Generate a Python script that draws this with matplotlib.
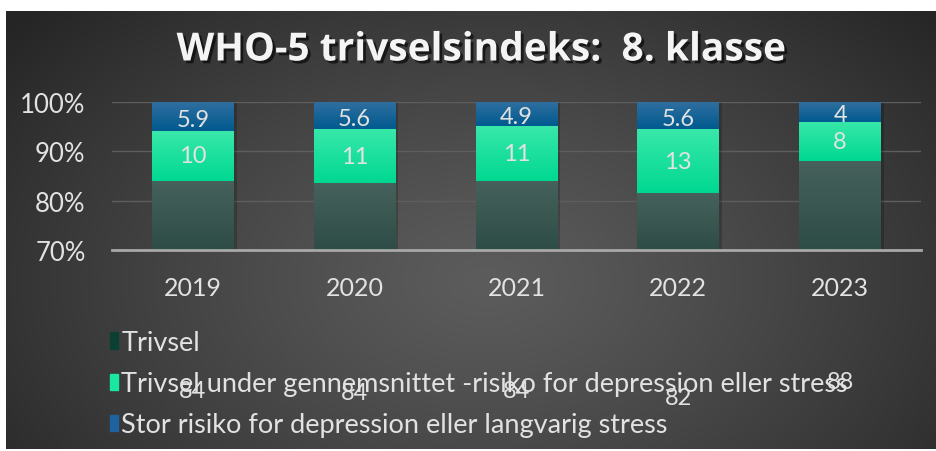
import matplotlib
matplotlib.use('Agg')
import matplotlib.pyplot as plt
import matplotlib.patheffects as pe
from matplotlib.patches import Patch
from matplotlib.colors import to_rgb
import numpy as np

# data
years = ['2019', '2020', '2021', '2022', '2023']
trivsel = [84, 84, 84, 82, 88]
under_snit = [10, 11, 11, 13, 8]
stor_risiko = [5.9, 5.6, 4.9, 5.6, 4]
labels = ['Trivsel',
          'Trivsel under gennemsnittet -risiko for depression eller stress',
          'Stor risiko for depression eller langvarig stress']

plt.rcParams['font.family'] = ['Lato', 'DejaVu Sans']
txt_col = '#e2e2e2'

fig = plt.figure(figsize=(9.37, 4.52), dpi=100)
fig.patch.set_facecolor('white')

# baggrund med radial gradient
bg = fig.add_axes([6/937, 2/452, 931/937, 438/452])
bg.set_axis_off()
yy, xx = np.mgrid[0:438, 0:931]
r = np.sqrt(((xx - 480) / 620.0) ** 2 + ((yy - 270) / 400.0) ** 2)
t = np.clip(r / 1.0, 0, 1) ** 1.2
c_in = np.array(to_rgb('#5c5c5c'))
c_out = np.array(to_rgb('#252525'))
img = c_in[None, None, :] * (1 - t[..., None]) + c_out[None, None, :] * t[..., None]
bg.imshow(img, aspect='auto', interpolation='bilinear')

ax = fig.add_axes([112/937, (452-251)/452, (921-112)/937, 148/452])
ax.set_facecolor('none')

# 100% stablet
tot = np.array(trivsel) + np.array(under_snit) + np.array(stor_risiko)
p1 = np.array(trivsel) / tot * 100
p2 = np.array(under_snit) / tot * 100
p3 = np.array(stor_risiko) / tot * 100
x = np.arange(len(years))
w = 0.506

def grad_fill(bars, top_col, bot_col, ymin=70):
    for b in bars:
        x0, y0 = b.get_x(), max(b.get_y(), ymin)
        x1, y1 = x0 + b.get_width(), b.get_y() + b.get_height()
        g = np.linspace(0, 1, 64)[:, None]
        ct = np.array(to_rgb(top_col)); cb = np.array(to_rgb(bot_col))
        im = ct[None, None, :] * (1 - g[..., None]) + cb[None, None, :] * g[..., None]
        im = np.repeat(im, 2, axis=1)
        ax.imshow(im, extent=[x0, x1, y0, y1], aspect='auto', zorder=3,
                  clip_path=b, interpolation='bilinear')

shadow = [pe.SimplePatchShadow(offset=(2, -1), shadow_rgbFace='black', alpha=0.2), pe.Normal()]
b1 = ax.bar(x, p1, w, color='#3d5a53', zorder=2, path_effects=shadow)
b2 = ax.bar(x, p2, w, bottom=p1, color='#12e29c', zorder=2, path_effects=shadow)
b3 = ax.bar(x, p3, w, bottom=p1 + p2, color='#0f5e93', zorder=2, path_effects=shadow)
grad_fill(b1, '#46615b', '#2e4d46')
grad_fill(b2, '#38e8aa', '#00d891')
grad_fill(b3, '#316fa0', '#005a8f')

lab_fs = 17
for i in range(len(years)):
    ax.text(x[i], p1[i] / 2 - 0.6, str(trivsel[i]), ha='center', va='center',
            color=txt_col, fontsize=lab_fs, clip_on=False, zorder=6)
    ax.text(x[i], p1[i] + p2[i] / 2, str(under_snit[i]), ha='center', va='center',
            color=txt_col, fontsize=lab_fs, zorder=6)
    ax.text(x[i], p1[i] + p2[i] + p3[i] / 2 - 0.5, str(stor_risiko[i]), ha='center',
            va='center', color=txt_col, fontsize=lab_fs, zorder=6)

ax.set_xlim(-0.5, 4.5)
ax.set_ylim(70, 100)
ax.set_yticks([70, 80, 90, 100])
ax.set_yticklabels(['%d%%' % v for v in [70, 80, 90, 100]])
ax.set_xticks(x)
ax.set_xticklabels(years)
ax.tick_params(axis='y', length=0, pad=19, labelsize=18.5, labelcolor=txt_col)
ax.tick_params(axis='x', length=0, pad=19, labelsize=18, labelcolor=txt_col)
ax.grid(axis='y', color='#5e5e5e', lw=1, zorder=0)
ax.set_axisbelow(True)
for s in ['top', 'left', 'right']:
    ax.spines[s].set_visible(False)
ax.spines['bottom'].set_color('#a8a8a8')
ax.spines['bottom'].set_linewidth(2)
ax.spines['bottom'].set_zorder(5)

# titel
fig.text(481/937, (452-51)/452, 'WHO-5 trivselsindeks:  8. klasse', ha='center', va='center',
         fontsize=28, fontweight='bold', color='#f4f4f4', family=['Open Sans', 'DejaVu Sans'],
         path_effects=[pe.withSimplePatchShadow(offset=(2, -2), shadow_rgbFace='black', alpha=0.6)])

# legend
handles = [Patch(color='#0b4033'), Patch(color='#19e6a0'), Patch(color='#1f62a0')]
leg = fig.legend(handles, labels, loc='upper left', bbox_to_anchor=(110/937, (452-331)/452),
                 frameon=False, fontsize=19.5, labelcolor=txt_col, handlelength=0.3,
                 handleheight=0.55, handletextpad=0.12, labelspacing=0.6,
                 borderpad=0, borderaxespad=0)

fig.savefig('out.png', dpi=100)
